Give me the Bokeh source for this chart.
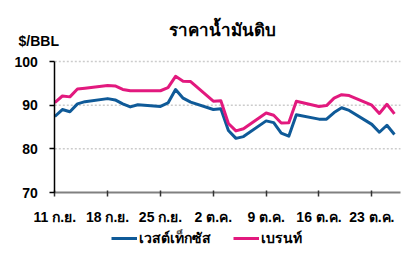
import pandas as pd
from bokeh.plotting import figure
from bokeh.models import (Range1d, FixedTicker, Label, Legend, LegendItem,
                          ColumnDataSource)
from bokeh.embed import file_html
from bokeh.resources import INLINE

# ---- data ----
dates = ["2023-09-11", "2023-09-12", "2023-09-13", "2023-09-14", "2023-09-15",
         "2023-09-18", "2023-09-19", "2023-09-20", "2023-09-21", "2023-09-22",
         "2023-09-25", "2023-09-26", "2023-09-27", "2023-09-28", "2023-09-29",
         "2023-10-02", "2023-10-03", "2023-10-04", "2023-10-05", "2023-10-06",
         "2023-10-09", "2023-10-10", "2023-10-11", "2023-10-12", "2023-10-13",
         "2023-10-16", "2023-10-17", "2023-10-18", "2023-10-19", "2023-10-20",
         "2023-10-23", "2023-10-24", "2023-10-25", "2023-10-26"]
wti = [87.4, 89.0, 88.5, 90.3, 90.8, 91.5, 91.2, 90.3, 89.6, 90.1,
       89.7, 90.5, 93.6, 91.6, 90.7, 89.0, 89.2, 84.2, 82.4, 82.8,
       86.4, 86.0, 83.6, 82.9, 87.8, 86.8, 86.8, 88.3, 89.4, 88.8,
       85.6, 83.8, 85.4, 83.3]
brent = [90.6, 92.1, 91.9, 93.7, 93.9, 94.5, 94.4, 93.6, 93.3, 93.3,
         93.3, 94.0, 96.6, 95.5, 95.4, 90.9, 91.0, 85.8, 84.1, 84.6,
         88.2, 87.7, 85.9, 86.0, 90.9, 89.7, 89.9, 91.6, 92.4, 92.2,
         90.0, 88.1, 90.2, 88.0]
tick_dates = ["2023-09-11", "2023-09-18", "2023-09-25", "2023-10-02",
              "2023-10-09", "2023-10-16", "2023-10-23"]
tick_labels = ["11 ก.ย.", "18 ก.ย.", "25 ก.ย.", "2 ต.ค.",
               "9 ต.ค.", "16 ต.ค.", "23 ต.ค."]
y_ticks = [70, 80, 90, 100]
grid_values = [80, 90, 100]
series_names = ["เวสต์เท็กซัส", "เบรนท์"]
title_text = "ราคาน้ำมันดิบ"
unit_text = "$/BBL"

BLUE = "#0f5a98"
PINK = "#e2197e"
FONT = "Liberation Sans"

W, H = 416, 257
# plot-area geometry (pixels) of the reference
AX_L, AX_R, AX_T, AX_B = 54.3, 400.0, 61.0, 192.0

src = ColumnDataSource(dict(x=pd.to_datetime(dates), wti=wti, brent=brent))

DAY = 86400000.0
ax_start = pd.Timestamp("2023-09-11").value / 1e6
ax_end = ax_start + 45.8 * DAY
px_per_ms = (AX_R - AX_L) / (ax_end - ax_start)
y_lo, y_hi = y_ticks[0], y_ticks[-1]
px_per_unit = (AX_B - AX_T) / (y_hi - y_lo)

# the frame covers the whole canvas; axes are pinned at the plot-area edges
x_range = Range1d(ax_start - AX_L / px_per_ms, ax_start + (W - AX_L) / px_per_ms)
y_range = Range1d(y_lo - (H - AX_B) / px_per_unit, y_hi + AX_T / px_per_unit)

p = figure(width=W, height=H, output_backend="svg", toolbar_location=None,
           x_axis_type="datetime", x_range=x_range, y_range=y_range,
           min_border=0)
p.outline_line_color = None
p.background_fill_color = "white"
p.border_fill_color = "white"

# dotted gridlines limited to the plot area
p.xgrid.grid_line_color = None
p.ygrid.grid_line_color = None
gsrc = ColumnDataSource(dict(x0=[ax_start] * len(grid_values),
                             x1=[ax_end] * len(grid_values),
                             y=grid_values))
p.segment("x0", "y", "x1", "y", source=gsrc, line_color="#cccccc",
          line_width=1.5, line_dash="2 2")

r1 = p.line("x", "wti", source=src, line_color=BLUE, line_width=3,
            line_join="round")
r2 = p.line("x", "brent", source=src, line_color=PINK, line_width=3,
            line_join="round")

# x axis
tick_ms = [pd.Timestamp(d).value // 10**6 for d in tick_dates]
xa = p.xaxis[0]
xa.fixed_location = y_lo
xa.bounds = (ax_start, ax_end)
xa.ticker = FixedTicker(ticks=tick_ms)
xa.major_label_overrides = {t: l for t, l in zip(tick_ms, tick_labels)}
xa.minor_tick_line_color = None
xa.axis_line_color = "#808080"
xa.axis_line_width = 2
xa.major_tick_line_color = "#333333"
xa.major_tick_line_width = 1.5
xa.major_tick_in = 2
xa.major_tick_out = 4
xa.major_label_standoff = 12
xa.major_label_text_font = FONT
xa.major_label_text_font_style = "bold"
xa.major_label_text_font_size = "14px"
xa.major_label_text_color = "black"

# y axis
ya = p.yaxis[0]
ya.fixed_location = ax_start
ya.bounds = (y_lo, y_hi)
ya.ticker = FixedTicker(ticks=y_ticks)
ya.minor_tick_line_color = None
ya.axis_line_color = "black"
ya.axis_line_width = 1.5
ya.major_tick_line_color = "black"
ya.major_tick_line_width = 1.5
ya.major_tick_in = 0
ya.major_tick_out = 5
ya.major_label_standoff = 12
ya.major_label_text_font = FONT
ya.major_label_text_font_style = "bold"
ya.major_label_text_font_size = "14px"
ya.major_label_text_color = "black"

# title and unit
p.add_layout(Label(x=222, y=H - 30, x_units="screen", y_units="screen",
                   text=title_text, text_align="center", text_baseline="middle",
                   text_font=FONT, text_font_style="bold",
                   text_font_size="17px", text_color="black"))
p.add_layout(Label(x=18, y=H - 40, x_units="screen", y_units="screen",
                   text=unit_text, text_align="left", text_baseline="middle",
                   text_font=FONT, text_font_style="bold",
                   text_font_size="14px", text_color="black"))

legend = Legend(items=[LegendItem(label=series_names[0], renderers=[r1]),
                       LegendItem(label=series_names[1], renderers=[r2])],
                location=(111, 8), orientation="horizontal",
                padding=0, margin=0, spacing=22, label_standoff=2,
                glyph_width=26, glyph_height=16, label_height=16,
                border_line_color=None, background_fill_alpha=0,
                label_text_font=FONT, label_text_font_style="bold",
                label_text_font_size="14px", label_text_color="black")
p.add_layout(legend, "center")

open("out.html", "w").write(file_html(p, INLINE))
